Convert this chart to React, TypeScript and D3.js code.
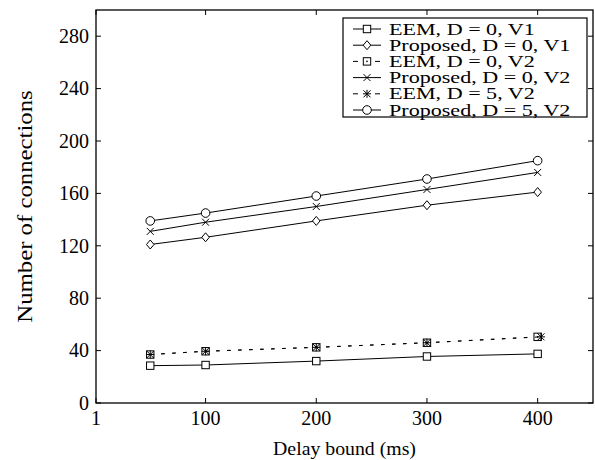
import React from 'react';
import * as d3 from 'd3';

// delay bound (ms) and number of connections
const delays = [50, 100, 200, 300, 400];
const starDelays = [50, 100, 200, 300, 403];
const eemD0V1 = [28.5, 29, 32, 35.5, 37.5];
const propD0V1 = [121, 126.5, 139, 151, 161];
const eemD0V2 = [37, 39.5, 42.5, 46, 50.5];
const propD0V2 = [131, 138, 150, 163, 176];
const eemD5V2 = [37, 39.5, 42.5, 46, 50.5];
const propD5V2 = [139, 145, 158, 171, 185];

const xTicks = [1, 100, 200, 300, 400];
const yTicks = [0, 40, 80, 120, 160, 200, 240, 280];

const series = [
  { name: 'EEM, D = 0, V1', xs: delays, ys: eemD0V1, marker: 'square', dashed: false },
  { name: 'Proposed, D = 0, V1', xs: delays, ys: propD0V1, marker: 'diamond', dashed: false },
  { name: 'EEM, D = 0, V2', xs: delays, ys: eemD0V2, marker: 'squaredot', dashed: true },
  { name: 'Proposed, D = 0, V2', xs: delays, ys: propD0V2, marker: 'cross', dashed: false },
  { name: 'EEM, D = 5, V2', xs: starDelays, ys: eemD5V2, marker: 'star', dashed: true },
  { name: 'Proposed, D = 5, V2', xs: delays, ys: propD5V2, marker: 'circle', dashed: false },
];

const W = 595, H = 460;
const margin = { left: 96, right: 2, top: 10, bottom: 57 };
const FONT = '"Liberation Serif", "Times New Roman", serif';

function Marker({ type, x, y }: { type: string; x: number; y: number }) {
  const s = 3.7;
  const common = { fill: 'white', stroke: 'black', strokeWidth: 1 };
  switch (type) {
    case 'square':
      return <rect x={x - s} y={y - s} width={2 * s} height={2 * s} {...common} />;
    case 'squaredot':
      return (
        <g>
          <rect x={x - s} y={y - s} width={2 * s} height={2 * s} {...common} />
          <circle cx={x} cy={y} r={0.8} fill="black" />
        </g>
      );
    case 'diamond':
      return <path d={`M${x},${y - 4.5}L${x + 3.8},${y}L${x},${y + 4.5}L${x - 3.8},${y}Z`} {...common} />;
    case 'circle':
      return <circle cx={x} cy={y} r={4.3} {...common} />;
    case 'cross':
      return <path d={`M${x - 3.5},${y - 3.5}L${x + 3.5},${y + 3.5}M${x - 3.5},${y + 3.5}L${x + 3.5},${y - 3.5}`} stroke="black" strokeWidth={1} fill="none" />;
    case 'star':
      return (
        <path
          d={`M${x - 3.5},${y - 3.5}L${x + 3.5},${y + 3.5}M${x - 3.5},${y + 3.5}L${x + 3.5},${y - 3.5}M${x},${y - 4}L${x},${y + 4}M${x - 4},${y}L${x + 4},${y}`}
          stroke="black"
          strokeWidth={1}
          fill="none"
        />
      );
    default:
      return null;
  }
}

export default function App() {
  const x = d3.scaleLinear().domain([1, 450]).range([margin.left, W - margin.right]);
  const y = d3.scaleLinear().domain([0, 300]).range([H - margin.bottom, margin.top]);
  const line = d3.line<[number, number]>().x(d => x(d[0])).y(d => y(d[1]));

  const x0 = x.range()[0], x1 = x.range()[1];
  const y0 = y.range()[0], y1 = y.range()[1];
  const tick = 5;

  // legend geometry
  const lg = { left: 343, top: 18, right: 587, bottom: 117, row0: 29, step: 16.2 };

  return (
    <svg width={W} height={H} style={{ position: 'absolute', left: 0, top: 0, background: 'white' }} fontFamily={FONT}>
      <rect x={0} y={0} width={W} height={H} fill="white" />
      {/* ticks inward on all four sides */}
      {xTicks.map(t => (
        <g key={'xt' + t}>
          <line x1={x(t)} x2={x(t)} y1={y0} y2={y0 - tick} stroke="black" />
          <line x1={x(t)} x2={x(t)} y1={y1} y2={y1 + tick} stroke="black" />
          <text x={x(t)} y={425} textAnchor="middle" fontSize={20}>{t}</text>
        </g>
      ))}
      {yTicks.map(t => (
        <g key={'yt' + t}>
          <line x1={x0} x2={x0 + tick} y1={y(t)} y2={y(t)} stroke="black" />
          <line x1={x1} x2={x1 - tick} y1={y(t)} y2={y(t)} stroke="black" />
          <text x={89} y={y(t)} dy="0.34em" textAnchor="end" fontSize={20}>{t}</text>
        </g>
      ))}
      <rect x={x0} y={y1} width={x1 - x0} height={y0 - y1} fill="none" stroke="black" strokeWidth={1.3} />

      {series.map(s => {
        const pts = s.xs.map((d, i) => [d, s.ys[i]] as [number, number]);
        return (
          <g key={s.name}>
            <path d={line(pts) || ''} fill="none" stroke="black" strokeWidth={1} strokeDasharray={s.dashed ? '3.5,7.5' : undefined} />
            {pts.map((p, i) => (
              <Marker key={i} type={s.marker} x={x(p[0])} y={y(p[1])} />
            ))}
          </g>
        );
      })}

      <text transform={`translate(${(x0 + x1) / 2},455) scale(1.1,1)`} textAnchor="middle" fontSize={18}>Delay bound (ms)</text>
      <text transform={`translate(32,${(y0 + y1) / 2}) rotate(-90) scale(1.18,1)`} textAnchor="middle" fontSize={21}>Number of connections</text>

      {/* legend */}
      <rect x={lg.left} y={lg.top} width={lg.right - lg.left} height={lg.bottom - lg.top} fill="white" stroke="black" strokeWidth={1.2} />
      {series.map((s, i) => {
        const cy = lg.row0 + i * lg.step;
        return (
          <g key={'lg' + s.name}>
            {s.dashed ? (
              <g>
                <line x1={353} x2={358} y1={cy} y2={cy} stroke="black" />
                <line x1={375} x2={380} y1={cy} y2={cy} stroke="black" />
              </g>
            ) : (
              <line x1={353} x2={381} y1={cy} y2={cy} stroke="black" />
            )}
            <Marker type={s.marker} x={367} y={cy} />
            <text transform={`translate(389,${cy + 5.6}) scale(1.3,1)`} fontSize={17}>{s.name}</text>
          </g>
        );
      })}
    </svg>
  );
}
